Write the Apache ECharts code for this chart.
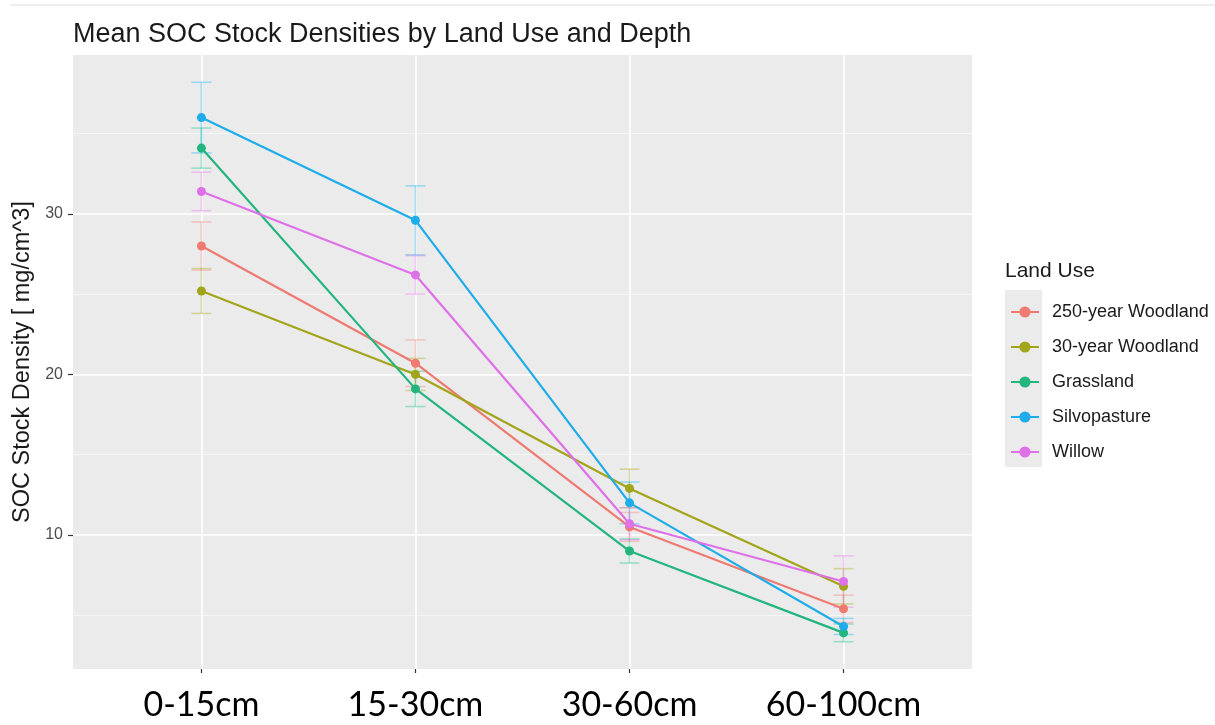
<!DOCTYPE html>
<html>
<head>
<meta charset="utf-8">
<script src="https://cdn.jsdelivr.net/npm/echarts@6/dist/echarts.min.js"></script>
<style>
html,body{margin:0;padding:0;background:#fff;}
#chart{width:1215px;height:725px;}
</style>
</head>
<body>
<div id="chart"></div>
<script>
var categories = ['0-15cm', '15-30cm', '30-60cm', '60-100cm'];
var landUses = ['250-year Woodland', '30-year Woodland', 'Grassland', 'Silvopasture', 'Willow'];
var woodland250 = [28.0, 20.7, 10.5, 5.4];
var woodland250Err = [1.5, 1.45, 0.9, 0.85];
var woodland30 = [25.2, 20.0, 12.9, 6.8];
var woodland30Err = [1.4, 1.0, 1.2, 1.1];
var grassland = [34.1, 19.1, 9.0, 3.9];
var grasslandErr = [1.25, 1.1, 0.75, 0.55];
var silvopasture = [36.0, 29.6, 12.0, 4.3];
var silvopastureErr = [2.2, 2.15, 1.3, 0.5];
var willow = [31.4, 26.2, 10.7, 7.1];
var willowErr = [1.2, 1.2, 1.0, 1.6];
var yMajorTicks = [10, 20, 30];
var yMinorTicks = [5, 15, 25, 35];

var lineColors = ['#ef7a72', '#a2a41a', '#23b57e', '#1facea', '#de70e8'];
var errColors = ['rgba(248,118,109,0.35)', 'rgba(163,165,0,0.35)', 'rgba(0,191,125,0.35)', 'rgba(0,176,246,0.35)', 'rgba(231,107,243,0.35)'];
var means = [woodland250, woodland30, grassland, silvopasture, willow];
var errs = [woodland250Err, woodland30Err, grasslandErr, silvopastureErr, willowErr];

var series = [];
landUses.forEach(function (name, i) {
  var errData = means[i].map(function (v, j) { return [j, v - errs[i][j], v + errs[i][j]]; });
  series.push({
    name: name + ' SE',
    type: 'custom',
    xAxisIndex: 0, yAxisIndex: 0,
    z: 1,
    silent: true,
    data: errData,
    renderItem: function (params, api) {
      var lo = api.coord([api.value(0), api.value(1)]);
      var hi = api.coord([api.value(0), api.value(2)]);
      var w = 10;
      var st = { stroke: errColors[i], lineWidth: 1.6, fill: null };
      return {
        type: 'group',
        children: [
          { type: 'line', shape: { x1: lo[0], y1: lo[1], x2: hi[0], y2: hi[1] }, style: st },
          { type: 'line', shape: { x1: lo[0] - w, y1: lo[1], x2: lo[0] + w, y2: lo[1] }, style: st },
          { type: 'line', shape: { x1: hi[0] - w, y1: hi[1], x2: hi[0] + w, y2: hi[1] }, style: st }
        ]
      };
    }
  });
});
landUses.forEach(function (name, i) {
  series.push({
    name: name,
    type: 'line',
    xAxisIndex: 0, yAxisIndex: 0,
    z: 3,
    data: means[i].map(function (v, j) { return [j, v]; }),
    symbol: 'circle',
    symbolSize: 9,
    color: lineColors[i],
    lineStyle: { width: 2.2, color: lineColors[i] },
    itemStyle: { color: lineColors[i] },
    emphasis: { disabled: true },
    animation: false
  });
});

var chart = echarts.init(document.getElementById('chart'));
chart.setOption({
  animation: false,
  backgroundColor: '#ffffff',
  title: [
    { text: 'Mean SOC Stock Densities by Land Use and Depth', left: 68, top: 16,
      textStyle: { fontFamily: 'Liberation Sans, Arial, sans-serif', fontSize: 27, fontWeight: 'normal', color: '#1a1a1a' } },
    { text: 'Land Use', left: 1000, top: 256,
      textStyle: { fontFamily: 'Liberation Sans, Arial, sans-serif', fontSize: 21, fontWeight: 'normal', color: '#1a1a1a' } }
  ],
  graphic: [
    { type: 'rect', left: 10, top: 4, shape: { width: 1205, height: 2 }, style: { fill: '#eeeeee' }, z: -10 },
    { type: 'rect', left: 1005, top: 290, shape: { width: 37, height: 177 }, style: { fill: '#ebebeb' }, z: -10 }
  ],
  legend: {
    orient: 'vertical',
    left: 1010, top: 303,
    padding: 0,
    itemWidth: 28, itemHeight: 14, itemGap: 17,
    data: landUses,
    textStyle: { fontFamily: 'Liberation Sans, Arial, sans-serif', fontSize: 18, color: '#1a1a1a', padding: [0, 0, 0, 8] }
  },
  grid: { left: 73, right: 243, top: 55, bottom: 56, containLabel: false, show: true, backgroundColor: '#ebebeb', borderWidth: 0 },
  xAxis: {
    type: 'value', min: -0.6, max: 3.6,
    axisLine: { show: false, onZero: false },
    axisTick: { show: true, customValues: [0, 1, 2, 3], length: 4, lineStyle: { color: '#333333', width: 1.2 } },
    axisLabel: {
      customValues: [0, 1, 2, 3],
      formatter: function (v) { return categories[Math.round(v)]; },
      fontFamily: 'Lato, Open Sans, sans-serif', fontSize: 34, color: '#000000', margin: 19
    },
    splitLine: { show: true, lineStyle: { color: '#ffffff', width: 1.6 } }
  },
  yAxis: [
    {
      type: 'value', min: 1.65, max: 39.9,
      name: 'SOC Stock Density [ mg/cm^3]', nameLocation: 'middle', nameGap: 36,
      nameTextStyle: { fontFamily: 'Liberation Sans, Arial, sans-serif', fontSize: 23.5, color: '#1a1a1a' },
      axisLine: { show: false, onZero: false },
      axisTick: { show: true, customValues: yMajorTicks, length: 5, lineStyle: { color: '#333333', width: 1.2 } },
      axisLabel: { customValues: yMajorTicks, fontFamily: 'Liberation Sans, Arial, sans-serif', fontSize: 16, color: '#4d4d4d', margin: 10 },
      splitLine: { show: true, lineStyle: { color: '#ffffff', width: 1.6 } }
    },
    {
      type: 'value', min: 1.65, max: 39.9, position: 'left',
      axisLine: { show: false, onZero: false },
      axisTick: { show: false, customValues: yMinorTicks },
      axisLabel: { show: false, customValues: yMinorTicks },
      splitLine: { show: true, lineStyle: { color: '#f7f7f7', width: 0.8 } }
    }
  ],
  series: series
});
</script>
</body>
</html>
